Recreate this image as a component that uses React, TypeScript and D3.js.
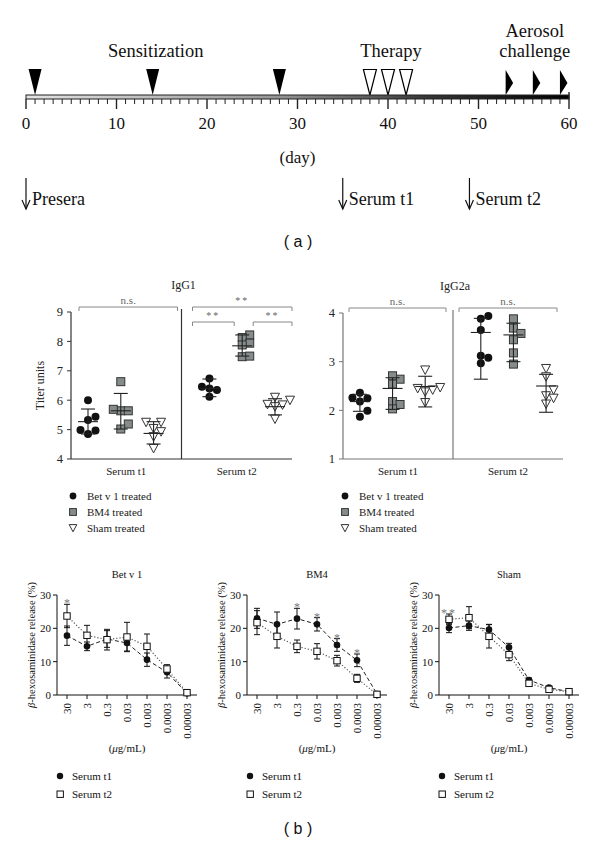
import React from 'react';
import * as d3 from 'd3';

const SERIF = '"Liberation Serif", "Times New Roman", serif';
const SANS = '"Liberation Sans", Arial, sans-serif';

// ---- (a) timeline ----
const dayTicks = d3.range(0, 61);
const dayLabels = [0, 10, 20, 30, 40, 50, 60];
const sensitizationDays = [1, 14, 28];
const therapyDays = [38, 40, 42];
const aerosolDays = [53, 56, 59];
const bleedDays = [0, 35, 49];
const bleedLabels = ['Presera', 'Serum t1', 'Serum t2'];

// ---- (a) titers ----
const groups = ['Bet v 1 treated', 'BM4 treated', 'Sham treated'];
const sera = ['Serum t1', 'Serum t2'];

// order: t1 Bet, t1 BM4, t1 Sham, t2 Bet, t2 BM4, t2 Sham
const igg1Points = [
  [6.0, 5.44, 5.33, 4.99, 4.97, 4.85],
  [6.63, 5.64, 5.64, 5.69, 5.19, 5.02],
  [5.25, 5.25, 4.93, 5.04, 4.76, 4.36],
  [6.74, 6.46, 6.4, 6.35, 6.12],
  [8.22, 8.13, 7.94, 7.88, 7.48, 7.5],
  [6.1, 6.0, 5.84, 5.86, 5.78, 5.36],
];
const igg1Mean = [5.27, 5.64, 4.87, 6.4, 7.85, 5.78];
const igg1Low = [4.85, 5.02, 4.51, 6.12, 7.5, 5.5];
const igg1High = [5.7, 6.23, 5.27, 6.72, 8.22, 6.05];

const igg2aPoints = [
  [2.36, 2.25, 2.26, 2.18, 1.99, 1.87],
  [2.64, 2.71, 2.54, 2.18, 2.12, 2.03],
  [2.83, 2.47, 2.42, 2.45, 2.38, 2.16],
  [3.94, 3.88, 3.65, 3.12, 3.08, 2.97],
  [3.88, 3.69, 3.58, 3.45, 3.18, 2.95],
  [2.86, 2.69, 2.42, 2.3, 2.25, 2.13],
];
const igg2aMean = [2.18, 2.45, 2.49, 3.6, 3.55, 2.5];
const igg2aLow = [1.98, 2.02, 2.07, 2.64, 3.0, 1.96];
const igg2aHigh = [2.33, 2.67, 2.7, 3.89, 3.79, 2.74];

// ---- (b) release ----
const concentrations = ['30', '3', '0.3', '0.03', '0.003', '0.0003', '0.00003'];

const betT1 = [17.8, 14.6, 16.8, 15.6, 10.6, 6.8, 0.5];
const betT1Sd = [2.9, 1.3, 2.5, 2.4, 2.0, 1.7, 0.3];
const betT2 = [23.7, 17.9, 16.6, 17.4, 14.6, 7.8, 0.7];
const betT2Sd = [3.5, 3.0, 3.1, 4.4, 3.7, 1.3, 0.3];
const betSig = ['*', '', '', '', '', '', ''];

const bm4T1 = [23.0, 21.2, 22.9, 21.2, 15.0, 10.4, 0.3];
const bm4T1Sd = [3.0, 3.7, 3.1, 2.0, 1.9, 1.9, 0.3];
const bm4T2 = [21.7, 17.6, 14.6, 13.1, 10.3, 5.0, 0.2];
const bm4T2Sd = [3.6, 3.5, 1.9, 2.3, 1.6, 1.2, 0.3];
const bm4Sig = ['', '', '*', '*', '*', '*', ''];

const shamT1 = [20.1, 20.8, 19.6, 14.3, 4.5, 2.2, 1.0];
const shamT1Sd = [1.4, 1.4, 1.6, 1.2, 0.6, 0.4, 0.2];
const shamT2 = [22.7, 23.2, 17.6, 12.1, 3.5, 1.7, 1.0];
const shamT2Sd = [1.6, 3.3, 3.5, 1.8, 0.6, 0.4, 0.2];
const shamSig = ['**', '', '', '', '', '', ''];

// simple beeswarm offsets so overlapping points spread sideways
function swarm(values: number[], y: (v: number) => number, step: number, minDist: number) {
  const order = values.map((_, i) => i).sort((a, b) => values[a] - values[b]);
  const placed: { x: number; y: number }[] = [];
  const out: number[] = new Array(values.length).fill(0);
  for (const i of order) {
    const py = y(values[i]);
    for (const k of [0, 1, -1, 2, -2]) {
      const px = k * step;
      if (placed.every(p => Math.hypot(p.x - px, p.y - py) >= minDist)) {
        out[i] = px;
        placed.push({ x: px, y: py });
        break;
      }
    }
  }
  return out;
}

function Marker({ g, x, y, s = 1 }: { g: number; x: number; y: number; s?: number }) {
  if (g === 0) return <circle cx={x} cy={y} r={4 * s} fill="#111" />;
  if (g === 1)
    return <rect x={x - 4 * s} y={y - 4 * s} width={8 * s} height={8 * s} fill="#868c8c" stroke="#333" strokeWidth={1} />;
  return (
    <path
      d={`M${x - 4.5 * s},${y - 4 * s} L${x + 4.5 * s},${y - 4 * s} L${x},${y + 4.5 * s} Z`}
      fill="#fff"
      stroke="#333"
      strokeWidth={1}
    />
  );
}

function Timeline() {
  const tx = d3.scaleLinear().domain([0, 60]).range([26, 569]);
  return (
    <g fontFamily={SERIF} fill="#111">
      <defs>
        <linearGradient id="barGrad" x1="0" x2="1" y1="0" y2="0">
          <stop offset="0" stopColor="#e4e4e4" />
          <stop offset="0.45" stopColor="#999" />
          <stop offset="0.75" stopColor="#333" />
          <stop offset="1" stopColor="#000" />
        </linearGradient>
      </defs>
      <text x={tx(d3.mean(sensitizationDays)!)} y={57} fontSize={18.5} textAnchor="middle">Sensitization</text>
      <text x={tx(d3.mean(therapyDays)!) + 3} y={57} fontSize={18.5} textAnchor="middle">Therapy</text>
      <text x={tx(d3.mean(aerosolDays)!) + 2} y={37} fontSize={18.5} textAnchor="middle">Aerosol</text>
      <text x={tx(d3.mean(aerosolDays)!) + 2} y={57} fontSize={18.5} textAnchor="middle">challenge</text>

      {sensitizationDays.map(d => (
        <path key={d} d={`M${tx(d) - 6.5},69 L${tx(d) + 6.5},69 L${tx(d)},95 Z`} fill="#000" />
      ))}
      {therapyDays.map(d => (
        <path key={d} d={`M${tx(d) - 6.5},69.5 L${tx(d) + 6.5},69.5 L${tx(d)},95 Z`} fill="#fff" stroke="#000" strokeWidth={1.2} />
      ))}
      {aerosolDays.map(d => (
        <path key={d} d={`M${tx(d)},70 L${tx(d) + 7.5},83 L${tx(d)},95 Z`} fill="#000" />
      ))}

      <rect x={tx(0)} y={95} width={tx(60) - tx(0)} height={4} fill="url(#barGrad)" stroke="#222" strokeWidth={1} />
      {dayTicks.map(d => (
        <line
          key={d}
          x1={tx(d)}
          x2={tx(d)}
          y1={d === 60 ? 92 : 99}
          y2={d % 10 === 0 ? 109 : 104}
          stroke="#222"
          strokeWidth={d % 10 === 0 ? 1.4 : 1}
        />
      ))}
      {dayLabels.map(d => (
        <text key={d} x={tx(d)} y={129} fontSize={17} textAnchor="middle">{d}</text>
      ))}
      <text x={tx(30)} y={163} fontSize={17} textAnchor="middle">(day)</text>

      {bleedDays.map((d, i) => (
        <g key={d}>
          <line x1={tx(d)} x2={tx(d)} y1={178} y2={209} stroke="#111" strokeWidth={1.2} />
          <path d={`M${tx(d) - 4},200 L${tx(d)},209 L${tx(d) + 4},200`} fill="none" stroke="#111" strokeWidth={1.2} />
          <text x={tx(d) + 6} y={205} fontSize={18}>{bleedLabels[i]}</text>
        </g>
      ))}
      <text x={298} y={247} fontSize={16} fontFamily={SANS} textAnchor="middle">( a )</text>
    </g>
  );
}

type Bracket = { serum: number; x0: (b: number, w: number, gx: (g: number) => number) => number; x1: (b: number, w: number, gx: (g: number) => number) => number; level: number; label: string };

function TiterPanel(props: {
  title: string;
  yDomain: [number, number];
  yTicks: number[];
  x0: number;
  x1: number;
  yTop: number;
  yBottom: number;
  points: number[][];
  mean: number[];
  low: number[];
  high: number[];
  brackets: Bracket[];
  yLabel?: string;
  axisColor: string;
}) {
  const { x0, x1, yTop, yBottom } = props;
  const y = d3.scaleLinear().domain(props.yDomain).range([yBottom, yTop]);
  const band = d3.scaleBand().domain(sera).range([x0, x1]).paddingInner(0.46).paddingOuter(0.14);
  const gx = (s: number, g: number) => {
    const p = d3.scalePoint().domain(groups).range([band(sera[s])!, band(sera[s])! + band.bandwidth()]);
    return p(groups[g])!;
  };
  const mid = (x0 + x1) / 2;
  const half = (x1 - x0) / 2;
  const pxPerUnit = (yBottom - yTop) / (props.yDomain[1] - props.yDomain[0]);
  return (
    <g fontFamily={SERIF} fill="#222">
      <text x={mid + 2} y={yTop - 23} fontSize={12} textAnchor="middle">{props.title}</text>
      {/* axes */}
      <line x1={x0} x2={x0} y1={yTop} y2={yBottom} stroke={props.axisColor} strokeWidth={1.2} />
      <line x1={x0} x2={x1} y1={yBottom} y2={yBottom} stroke={props.axisColor} strokeWidth={1.2} />
      <line x1={mid} x2={mid} y1={yTop - 3} y2={yBottom} stroke={props.axisColor} strokeWidth={1.2} />
      {props.yTicks.map(t => (
        <g key={t}>
          <line x1={x0 - 4} x2={x0} y1={y(t)} y2={y(t)} stroke={props.axisColor} />
          <text x={x0 - 8} y={y(t)} dy="0.35em" fontSize={12.5} textAnchor="end">{t}</text>
        </g>
      ))}
      {props.yLabel && (
        <text transform={`translate(${x0 - 27},${(yTop + yBottom) / 2}) rotate(-90)`} fontSize={12} textAnchor="middle">
          {props.yLabel}
        </text>
      )}
      {sera.map((s, i) => (
        <text key={s} x={x0 + half * i + half / 2} y={yBottom + 16} fontSize={11} textAnchor="middle">{s}</text>
      ))}
      {/* significance brackets */}
      {props.brackets.map((b, i) => {
        const bx = x0 + half * b.serum;
        const a = b.x0(bx, half, g => gx(b.serum, g));
        const c = b.x1(bx, half, g => gx(b.serum, g));
        const by = yTop - 5 + b.level * 15;
        return (
          <g key={i}>
            <path d={`M${a},${by + 4} V${by} H${c} V${by + 4}`} fill="none" stroke="#888" strokeWidth={1} />
            <text x={(a + c) / 2} y={by - 3} fontSize={b.label === 'n.s.' ? 11 : 10} fill="#666" textAnchor="middle"
              letterSpacing={b.label === 'n.s.' ? 0 : 2}>
              {b.label}
            </text>
          </g>
        );
      })}
      {/* points + mean/SD */}
      {props.points.map((vals, k) => {
        const s = Math.floor(k / 3);
        const g = k % 3;
        const cx = gx(s, g);
        const offs = swarm(vals, v => v * pxPerUnit, 7.5, 7);
        return (
          <g key={k}>
            {vals.map((v, j) => (
              <Marker key={j} g={g} x={cx + offs[j]} y={y(v)} />
            ))}
            <line x1={cx} x2={cx} y1={y(props.low[k])} y2={y(props.high[k])} stroke="#222" strokeWidth={1.1} />
            <line x1={cx - 10} x2={cx + 10} y1={y(props.mean[k])} y2={y(props.mean[k])} stroke="#222" strokeWidth={1.1} />
            <line x1={cx - 7} x2={cx + 7} y1={y(props.low[k])} y2={y(props.low[k])} stroke="#222" strokeWidth={1.1} />
            <line x1={cx - 7} x2={cx + 7} y1={y(props.high[k])} y2={y(props.high[k])} stroke="#222" strokeWidth={1.1} />
          </g>
        );
      })}
      {/* legend */}
      {groups.map((gname, g) => (
        <g key={gname}>
          <Marker g={g} x={x0 + 2} y={496 + g * 16} s={0.85} />
          <text x={x0 + 16} y={500 + g * 16} fontSize={11}>{gname}</text>
        </g>
      ))}
    </g>
  );
}

function ReleasePanel(props: {
  title: string;
  x0: number;
  t1: number[];
  t1Sd: number[];
  t2: number[];
  t2Sd: number[];
  sig: string[];
}) {
  const { x0 } = props;
  const yTop = 595;
  const yBottom = 695;
  const y = d3.scaleLinear().domain([0, 30]).range([yBottom, yTop]);
  const x = d3.scalePoint().domain(concentrations).range([x0 + 10, x0 + 130]);
  const lineGen = (vals: number[]) =>
    d3.line<number>().x((_, i) => x(concentrations[i])!).y(v => y(v))(vals)!;
  const errBars = (vals: number[], sd: number[]) =>
    vals.map((v, i) => {
      const cx = x(concentrations[i])!;
      return (
        <g key={i} stroke="#111" strokeWidth={1}>
          <line x1={cx} x2={cx} y1={y(v - sd[i])} y2={y(v + sd[i])} />
          <line x1={cx - 3} x2={cx + 3} y1={y(v - sd[i])} y2={y(v - sd[i])} />
          <line x1={cx - 3} x2={cx + 3} y1={y(v + sd[i])} y2={y(v + sd[i])} />
        </g>
      );
    });
  return (
    <g fontFamily={SERIF} fill="#111">
      <text x={x0 + 70} y={yTop - 17} fontSize={10.5} textAnchor="middle">{props.title}</text>
      <line x1={x0} x2={x0} y1={yTop} y2={yBottom} stroke="#111" />
      <line x1={x0} x2={x0 + 140} y1={yBottom} y2={yBottom} stroke="#111" />
      {[0, 10, 20, 30].map(t => (
        <g key={t}>
          <line x1={x0 - 4} x2={x0} y1={y(t)} y2={y(t)} stroke="#111" />
          <text x={x0 - 6} y={y(t)} dy="0.35em" fontSize={11} textAnchor="end">{t}</text>
        </g>
      ))}
      {concentrations.map(c => (
        <g key={c}>
          <line x1={x(c)!} x2={x(c)!} y1={yBottom} y2={yBottom + 4} stroke="#111" />
          <text transform={`translate(${x(c)! + 4},${yBottom + 8}) rotate(-90)`} fontSize={11} textAnchor="end">{c}</text>
        </g>
      ))}
      <text transform={`translate(${x0 - 22},${(yTop + yBottom) / 2}) rotate(-90)`} fontSize={10.5} textAnchor="middle">
        <tspan fontStyle="italic">β</tspan>-hexosaminidase release (%)
      </text>
      <text x={x0 + 70} y={752} fontSize={11} textAnchor="middle">
        (<tspan fontStyle="italic">μ</tspan>g/mL)
      </text>

      {errBars(props.t2, props.t2Sd)}
      {errBars(props.t1, props.t1Sd)}
      <path d={lineGen(props.t2)} fill="none" stroke="#555" strokeWidth={1.2} strokeDasharray="1.2 2" />
      <path d={lineGen(props.t1)} fill="none" stroke="#222" strokeWidth={1} strokeDasharray="4 2.5" />
      {props.t1.map((v, i) => (
        <circle key={i} cx={x(concentrations[i])!} cy={y(v)} r={3.3} fill="#111" />
      ))}
      {props.t2.map((v, i) => (
        <rect key={i} x={x(concentrations[i])! - 3.2} y={y(v) - 3.2} width={6.4} height={6.4} fill="#fff" stroke="#111" strokeWidth={1} />
      ))}
      {props.sig.map((s, i) =>
        s ? (
          <text key={i} x={x(concentrations[i])!} y={y(Math.max(props.t1[i] + props.t1Sd[i], props.t2[i] + props.t2Sd[i])) + 3}
            fontSize={12} fill="#777" textAnchor="middle" letterSpacing={s.length > 1 ? 2 : 0}>
            {s}
          </text>
        ) : null
      )}
      {/* legend */}
      <circle cx={x0 + 3} cy={776} r={3.2} fill="#111" />
      <text x={x0 + 15} y={780} fontSize={11}>Serum t1</text>
      <rect x={x0} y={791} width={6.4} height={6.4} fill="#fff" stroke="#111" />
      <text x={x0 + 15} y={798} fontSize={11}>Serum t2</text>
    </g>
  );
}

const fullBracket: Bracket['x0'] = (b) => b + 8;
const fullBracketEnd: Bracket['x1'] = (b, w) => b + w - 4;

const igg1Brackets: Bracket[] = [
  { serum: 0, x0: fullBracket, x1: fullBracketEnd, level: 0, label: 'n.s.' },
  { serum: 1, x0: b => b + 11, x1: (b, w) => b + w, level: 0, label: '**' },
  { serum: 1, x0: b => b + 11, x1: (b, w, gx) => gx(1) - 8, level: 1, label: '**' },
  { serum: 1, x0: (b, w, gx) => gx(1) + 11, x1: (b, w) => b + w, level: 1, label: '**' },
];
const igg2aBrackets: Bracket[] = [
  { serum: 0, x0: b => b + 6, x1: (b, w) => b + w - 7, level: 0, label: 'n.s.' },
  { serum: 1, x0: b => b + 6, x1: (b, w) => b + w - 6, level: 0, label: 'n.s.' },
];

export default function App() {
  return (
    <svg width={600} height={847} style={{ position: 'absolute', left: 0, top: 0, background: '#fff' }}>
      <rect width={600} height={847} fill="#fff" />
      <Timeline />
      <TiterPanel
        title="IgG1"
        yDomain={[4, 9]}
        yTicks={[4, 5, 6, 7, 8, 9]}
        x0={71}
        x1={292}
        yTop={312}
        yBottom={459}
        points={igg1Points}
        mean={igg1Mean}
        low={igg1Low}
        high={igg1High}
        brackets={igg1Brackets}
        yLabel="Titer units"
        axisColor="#333"
      />
      <TiterPanel
        title="IgG2a"
        yDomain={[1, 4]}
        yTicks={[1, 2, 3, 4]}
        x0={343}
        x1={563}
        yTop={313}
        yBottom={459}
        points={igg2aPoints}
        mean={igg2aMean}
        low={igg2aLow}
        high={igg2aHigh}
        brackets={igg2aBrackets}
        axisColor="#777"
      />
      <ReleasePanel title="Bet v 1" x0={57} t1={betT1} t1Sd={betT1Sd} t2={betT2} t2Sd={betT2Sd} sig={betSig} />
      <ReleasePanel title="BM4" x0={247} t1={bm4T1} t1Sd={bm4T1Sd} t2={bm4T2} t2Sd={bm4T2Sd} sig={bm4Sig} />
      <ReleasePanel title="Sham" x0={439} t1={shamT1} t1Sd={shamT1Sd} t2={shamT2} t2Sd={shamT2Sd} sig={shamSig} />
      <text x={298} y={834} fontSize={16} fontFamily={SANS} textAnchor="middle" fill="#111">( b )</text>
    </svg>
  );
}
